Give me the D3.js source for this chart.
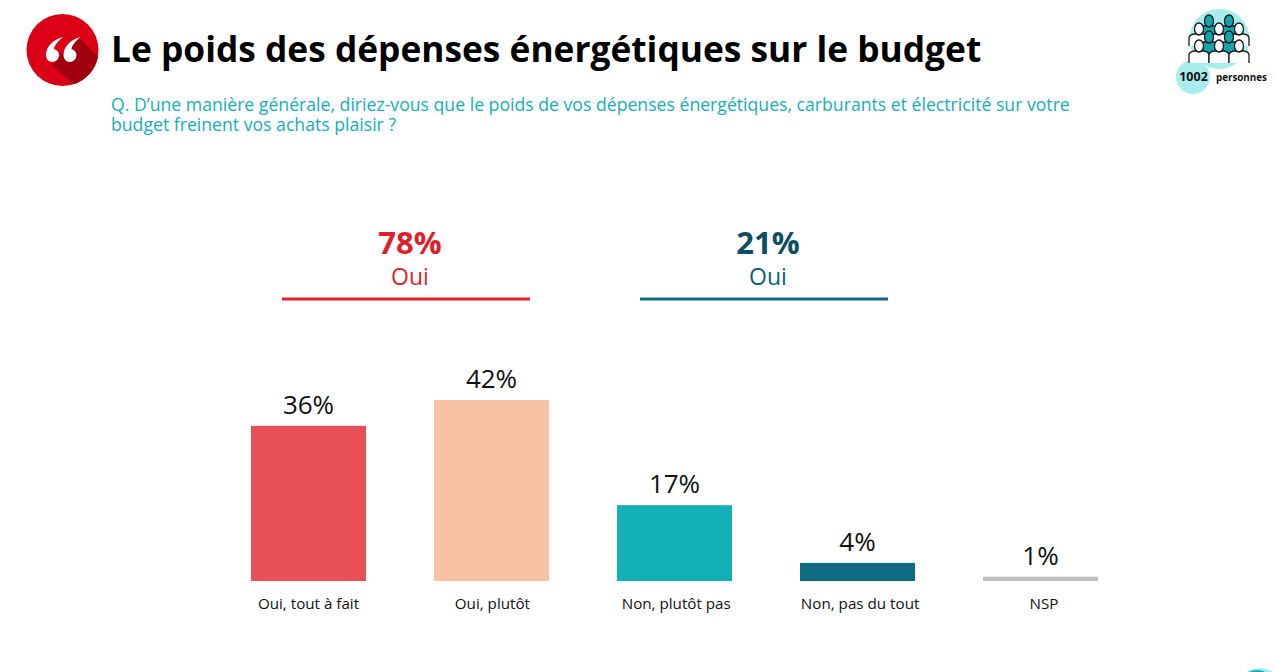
<!DOCTYPE html>
<html>
<head>
<meta charset="utf-8">
<script src="https://cdn.jsdelivr.net/npm/d3@7"></script>
<style>
  html, body { margin: 0; padding: 0; background: #fff; overflow: hidden; }
  text { font-family: "Open Sans", "Noto Sans", sans-serif; }
</style>
</head>
<body>
<div id="chart"></div>
<script>
// values
var categories = ["Oui, tout à fait", "Oui, plutôt", "Non, plutôt pas", "Non, pas du tout", "NSP"];
var barHeights = [36, 42, 17.6, 4.2, 1];
var barLabels = ["36%", "42%", "17%", "4%", "1%"];
var barColors = ["#e75056", "#f7c3a4", "#13b0b8", "#0f6b82", "#bfbfbf"];

var summaryValues = ["78%", "21%"];
var summaryNames = ["Oui", "Oui"];
var summaryColors = ["#e01f2b", "#0d4f61"];
var summaryNameColors = ["#e01f2b", "#0f5f75"];
var summaryLineColors = ["#e4212d", "#0f6b82"];

var question = [
  "Q. D’une manière générale, diriez-vous que le poids de vos dépenses énergétiques, carburants et électricité sur votre",
  "budget freinent vos achats plaisir ?"
];

var svg = d3.select("#chart").append("svg").attr("width", 1276).attr("height", 672);

var x = d3.scaleBand().domain(categories).range([217, 1132]).paddingInner(0.3716).paddingOuter(0.1858);
var y = d3.scaleLinear().domain([0, 42]).range([581, 400]);
// category labels drift a little to the right of their bars
var xLabel = d3.scalePoint().domain(categories).range([308.5, 1044]);

// bars
svg.selectAll("rect.bar").data(categories).enter().append("rect")
  .attr("class", "bar")
  .attr("x", (d) => x(d))
  .attr("y", (d, i) => y(barHeights[i]))
  .attr("width", x.bandwidth())
  .attr("height", (d, i) => y(0) - y(barHeights[i]))
  .style("fill", (d, i) => barColors[i]);

svg.selectAll("text.val").data(categories).enter().append("text")
  .attr("class", "val")
  .attr("x", (d) => x(d) + x.bandwidth() / 2)
  .attr("y", (d, i) => y(barHeights[i]) - 12)
  .attr("text-anchor", "middle")
  .style("font-size", "26px")
  .style("fill", "#111")
  .text((d, i) => barLabels[i]);

svg.selectAll("text.cat").data(categories).enter().append("text")
  .attr("class", "cat")
  .attr("x", (d) => xLabel(d))
  .attr("y", 609)
  .attr("text-anchor", "middle")
  .style("font-size", "15.2px")
  .style("fill", "#111")
  .text((d) => d);

// summary blocks above the bars
var summaryX = d3.scaleOrdinal().domain(summaryValues).range([406, 764]);
var summary = svg.selectAll("g.summary").data(summaryValues).enter().append("g")
  .attr("class", "summary")
  .attr("transform", (d) => "translate(" + summaryX(d) + ",0)");
summary.append("text")
  .attr("x", 4).attr("y", 254)
  .attr("text-anchor", "middle")
  .style("font-size", "31px").style("font-weight", 700)
  .style("fill", (d, i) => summaryColors[i])
  .text((d) => d);
summary.append("text")
  .attr("x", 4).attr("y", 285)
  .attr("text-anchor", "middle")
  .style("font-size", "23px")
  .style("fill", (d, i) => summaryNameColors[i])
  .text((d, i) => summaryNames[i]);
summary.append("line")
  .attr("x1", -124).attr("x2", 124)
  .attr("y1", 299).attr("y2", 299)
  .style("stroke", (d, i) => summaryLineColors[i])
  .style("stroke-width", 3);

// title and question
svg.append("text")
  .attr("x", 111).attr("y", 62)
  .style("font-size", "35.3px").style("font-weight", 700).style("fill", "#000")
  .text("Le poids des dépenses énergétiques sur le budget");
svg.selectAll("text.q").data(question).enter().append("text")
  .attr("class", "q")
  .attr("x", 111)
  .attr("y", (d, i) => 111 + i * 20)
  .style("font-size", "17.65px")
  .style("fill", "#13b0b8")
  .text((d) => d);

// quote badge
var badge = svg.append("g").attr("transform", "translate(62.5,50)");
badge.append("circle").attr("r", 36).style("fill", "#dc0016");
badge.append("path")
  .attr("d", "M-11,15 L16,-13 L35.5,7 A36,36 0 0 1 11,34.3 Z")
  .style("fill", "#a0000e");
badge.selectAll("path.q").data([-10.5, 7]).enter().append("path")
  .attr("class", "q")
  .attr("transform", (d) => "translate(" + d + ",5)")
  .attr("d", "M0,7 C-4,7 -6,3 -6,0 C-6,-9 2,-16 11,-18 C6,-14 2,-9 2,-6 C5,-5 7,-3 7,0 C7,4 4,7 0,7 Z")
  .style("fill", "#fff");

// sample size badge
var people = svg.append("g");
people.append("circle").attr("cx", 1219.5).attr("cy", 39).attr("r", 30).style("fill", "#a8ecee");
people.append("circle").attr("cx", 1193).attr("cy", 77).attr("r", 17).style("fill", "#a8ecee");
var rows = [[1209, 26, "#13a5ad"], [1229, 26, "#13a5ad"], [1199, 34, "#fff"], [1219, 34, "#fff"], [1239, 34, "#fff"],
            [1209, 42, "#13a5ad"], [1229, 42, "#13a5ad"], [1199, 51, "#fff"], [1219, 51, "#fff"], [1239, 51, "#fff"]];
var person = people.selectAll("g.p").data(rows).enter().append("g")
  .attr("class", "p")
  .attr("transform", (d) => "translate(" + d[0] + "," + d[1] + ")");
person.append("path")
  .attr("d", "M-10,12 L-10,4 Q-10,1 -5,0 L5,0 Q10,1 10,4 L10,12")
  .style("fill", (d) => d[2]).style("stroke", "#1a1a1a").style("stroke-width", 1.3);
person.append("ellipse")
  .attr("cx", 0).attr("cy", -5).attr("rx", 4.5).attr("ry", 6)
  .style("fill", (d) => d[2]).style("stroke", "#1a1a1a").style("stroke-width", 1.3);
svg.append("text").attr("x", 1193.5).attr("y", 80.5).attr("text-anchor", "middle")
  .style("font-size", "12.5px").style("font-weight", 700).style("fill", "#111").text("1002");
svg.append("text").attr("x", 1216).attr("y", 80.5)
  .style("font-size", "9.8px").style("font-weight", 700).style("fill", "#111").text("personnes");

// bit of next logo cut off by the page edge
svg.append("ellipse").attr("cx", 1260).attr("cy", 677).attr("rx", 16).attr("ry", 9).style("fill", "#a8ecee");
svg.append("ellipse").attr("cx", 1257).attr("cy", 677).attr("rx", 12).attr("ry", 7).style("fill", "#13b0b8");
</script>
</body>
</html>
